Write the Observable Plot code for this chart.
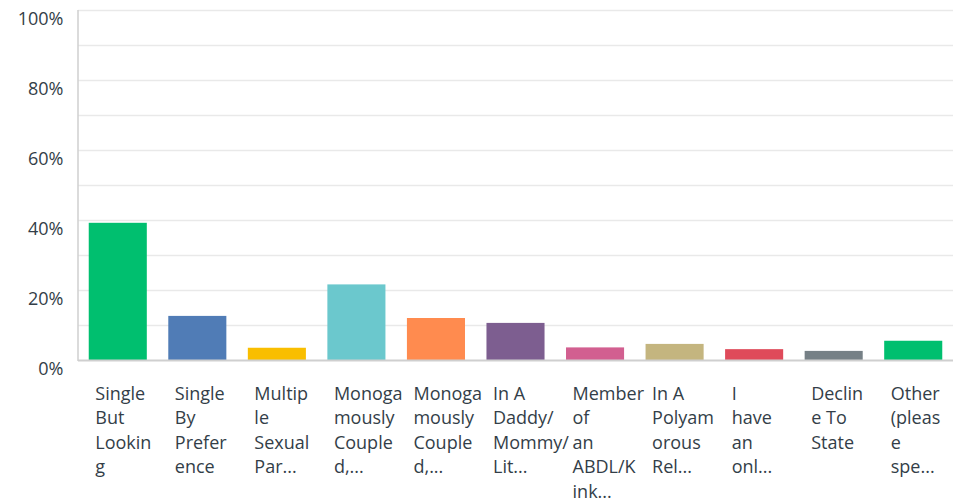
<!DOCTYPE html>
<html>
<head>
<meta charset="utf-8">
<script src="https://cdn.jsdelivr.net/npm/d3@7"></script>
<script src="https://cdn.jsdelivr.net/npm/@observablehq/plot@0.6"></script>
<style>
  html, body { margin: 0; padding: 0; background: #fff; }
  #chart { width: 953px; height: 502px; }
</style>
</head>
<body>
<div id="chart"></div>
<script>
const categories = [
  "Single But Looking",
  "Single By Preference",
  "Multiple Sexual Par...",
  "Monogamously Coupled,... (a)",
  "Monogamously Coupled,... (b)",
  "In A Daddy/Mommy/Lit...",
  "Member of an ABDL/Kink...",
  "In A Polyamorous Rel...",
  "I have an onl...",
  "Decline To State",
  "Other (please spe..."
];
const tickLabels = [
  "Single\nBut\nLookin\ng",
  "Single\nBy\nPrefer\nence",
  "Multip\nle\nSexual\nPar...",
  "Monoga\nmously\nCouple\nd,...",
  "Monoga\nmously\nCouple\nd,...",
  "In A\nDaddy/\nMommy/\nLit...",
  "Member\nof\nan\nABDL/K\nink...",
  "In A\nPolyam\norous\nRel...",
  "I\nhave\nan\nonl...",
  "Declin\ne To\nState",
  "Other\n(pleas\ne\nspe..."
];
const values = [39.2, 12.6, 3.5, 21.6, 12.0, 10.6, 3.6, 4.6, 3.1, 2.6, 5.5];
const colors = ["#00BF6F", "#507CB6", "#F9BE00", "#6BC8CD", "#FF8B4F", "#7D5E90", "#D25F90", "#C4B57F", "#DF4A5A", "#768086", "#00BF6F"];
const yTicks = [0, 20, 40, 60, 80, 100];
const gridTicks = [10, 20, 30, 40, 50, 60, 70, 80, 90, 100];

const data = categories.map((c, i) => ({i, category: c, value: values[i], color: colors[i]}));

const font = "'Open Sans', 'Noto Sans', sans-serif";
const textColor = "#333e48";

const chart = Plot.plot({
  width: 953,
  height: 502,
  marginLeft: 78,
  marginRight: 0,
  marginTop: 10,
  marginBottom: 142,
  style: {fontFamily: font, background: "#fff"},
  x: {domain: d3.range(categories.length), paddingInner: 0.27, paddingOuter: 0.135, round: false, axis: null},
  y: {domain: [0, 100], axis: null},
  marks: [
    Plot.gridY(gridTicks, {stroke: "#e9e9e9", strokeOpacity: 1, strokeWidth: 1.5}),
    Plot.barY(data, {x: "i", y: "value", fill: "color"}),
    Plot.ruleY([0], {stroke: "#cfcfcf", strokeWidth: 2}),
    (index, scales, values, dimensions) => {
      const g = d3.create("svg:g");
      const y0 = scales.y(0), y1 = scales.y(100);
      g.append("line")
        .attr("x1", dimensions.marginLeft).attr("x2", dimensions.marginLeft)
        .attr("y1", y1).attr("y2", y0 + 1)
        .attr("stroke", "#cfcfcf").attr("stroke-width", 1.5);
      return g.node();
    },
    Plot.axisY(yTicks, {
      tickSize: 0, tickPadding: 15, dy: 9,
      tickFormat: d => d + "%",
      fontSize: 18, fill: textColor, label: null
    }),
    Plot.axisX({
      tickSize: 0, tickPadding: 0,
      tickFormat: i => tickLabels[i],
      textAnchor: "start", dx: -23, dy: 22,
      lineAnchor: "top", lineHeight: 1.36,
      fontSize: 18, fill: textColor, label: null
    })
  ]
});
document.getElementById("chart").appendChild(chart);
</script>
</body>
</html>
